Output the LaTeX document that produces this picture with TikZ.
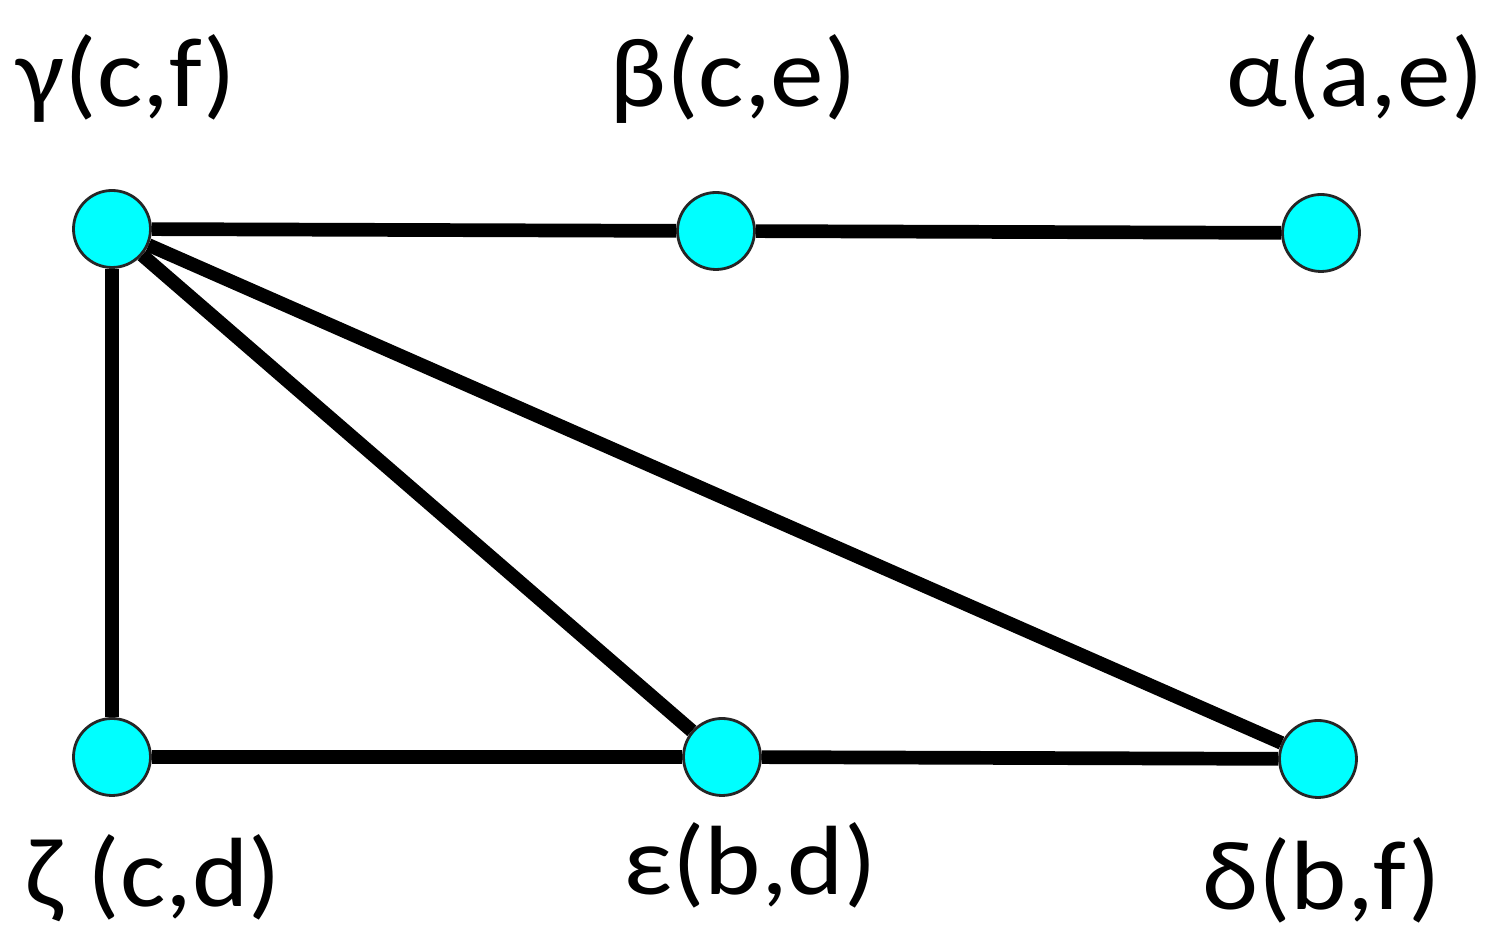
\documentclass[tikz,border=0pt]{standalone}
\usepackage{fontspec}
\setmainfont{Carlito}
\usepackage{xcolor}
\usepackage{tikz}
\usetikzlibrary{positioning}
\definecolor{vcyan}{RGB}{0,255,255}

\begin{document}
\begin{tikzpicture}[vertex/.style={circle, fill=vcyan, draw=black!85, line width=0.8pt, minimum size=0.77cm, inner sep=0pt},
  edge/.style={line width=3.9pt},
  lbl/.style={font=\fontsize{28}{30}\selectfont, anchor=base, inner sep=0pt, xscale=1.09, transform shape}]
\useasboundingbox (0,0) rectangle (14.97,9.5);
% Upper row of vertices
\node[vertex] (gamma) at (1.12, 7.21) {};
\node[vertex] (beta) at (7.16, 7.19) {};
\node[vertex] (alpha) at (13.21, 7.17) {};
% Lower row of vertices
\node[vertex] (zeta) at (1.12, 1.93) {};
\node[vertex] (eps) at (7.22, 1.93) {};
\node[vertex] (delta) at (13.18, 1.91) {};
% Edges
\draw[edge] (gamma) -- (beta);
\draw[edge] (beta) -- (alpha);
\draw[edge] (gamma) -- (zeta);
\draw[edge] (gamma) -- (eps);
\draw[edge] (gamma) -- (delta);
\draw[edge] (zeta) -- (eps);
\draw[edge] (eps) -- (delta);
% Labels
\node[lbl] (lgamma) at (1.265, 8.43) {γ(c,f)};
\node[lbl] (lbeta) at (7.33, 8.43) {β(c,e)};
\node[lbl] (lalpha) at (13.55, 8.43) {α(a,e)};
\node[lbl] (lzeta) at (1.535, 0.43) {ζ (c,d)};
\node[lbl] (leps) at (7.50, 0.55) {ε(b,d)};
\node[lbl] (ldelta) at (13.215, 0.40) {δ(b,f)};
\end{tikzpicture}
\end{document}
